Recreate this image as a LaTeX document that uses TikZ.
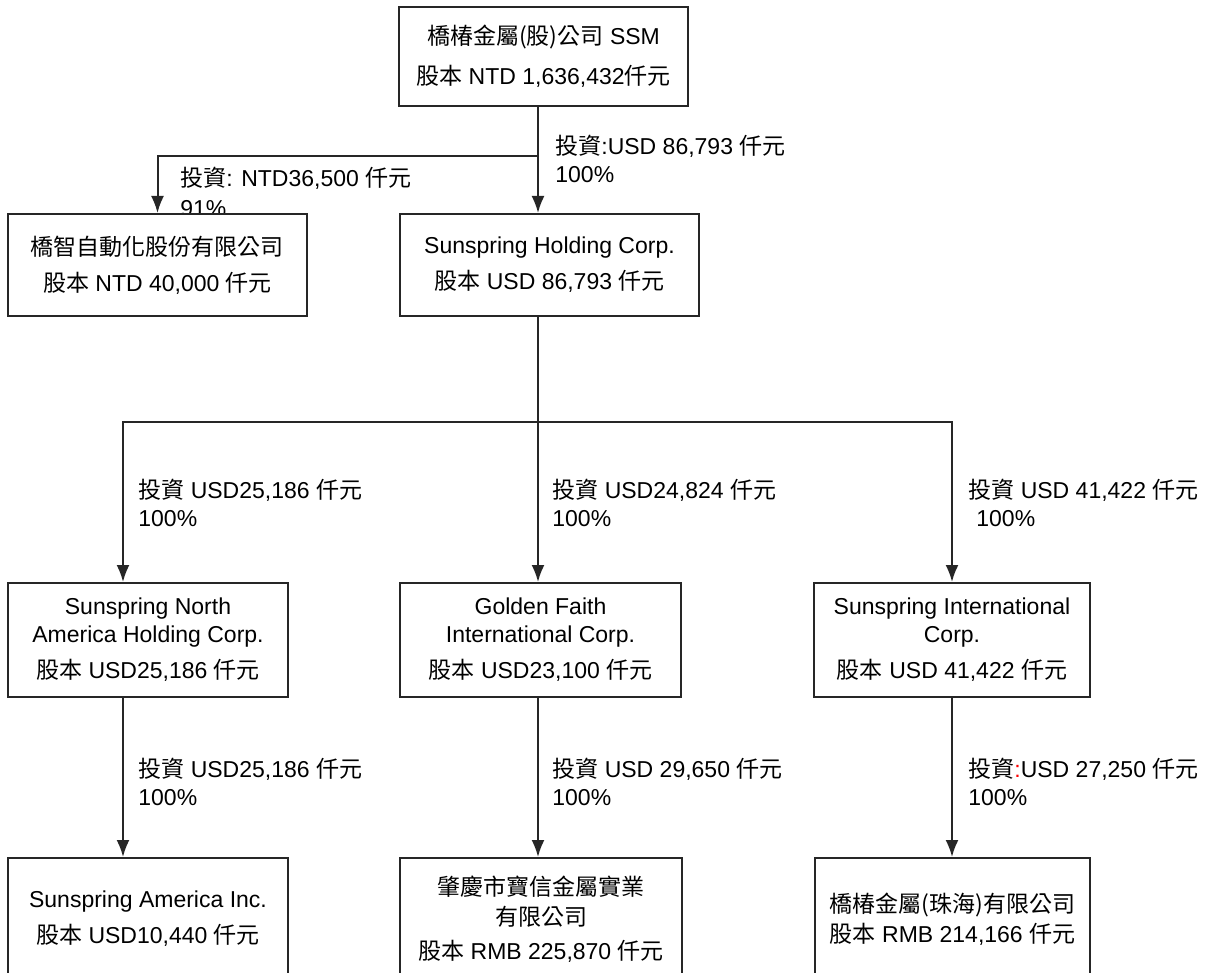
\documentclass[tikz,border=0pt]{standalone}
\usepackage{fontspec}
\setmainfont{Liberation Sans}
\newfontfamily\cjkfont{Noto Sans CJK TC}
\newcommand{\zh}[1]{{\cjkfont #1}}
\usepackage{xcolor}
\usetikzlibrary{arrows.meta,calc,positioning}

\begin{document}
\begin{tikzpicture}[>={Latex[length=8.5pt,width=6.5pt]},x=0.5pt,y=-0.5pt]
\tikzstyle{orgbox}=[rectangle,draw=black!85,line width=1pt,fill=white,align=center,
                    inner sep=0pt,font=\fontsize{11.5}{14}\selectfont]
\tikzstyle{invlabel}=[anchor=west,align=left,inner sep=0pt,font=\fontsize{11.5}{14}\selectfont]
\tikzstyle{arrow}=[->,line width=1pt,black!85]

\clip (0,0) rectangle (1206,973);

% --- investment labels ---
\node[invlabel] (lshc) at (555,159) {\zh{投資}:USD 86,793 \zh{仟元}\\100\%};
\node[invlabel] (lauto) at (180,192) {\zh{投資}: NTD36,500 \zh{仟元}\\[1pt]91\%};
\node[invlabel] (lsnahc) at (138,503) {\zh{投資} USD25,186 \zh{仟元}\\100\%};
\node[invlabel] (lgfic) at (552,503) {\zh{投資} USD24,824 \zh{仟元}\\100\%};
\node[invlabel] (lsic) at (968,503) {\zh{投資} USD 41,422 \zh{仟元}\\\hspace*{4pt}100\%};
\node[invlabel] (lsai) at (138,782) {\zh{投資} USD25,186 \zh{仟元}\\100\%};
\node[invlabel] (lzq) at (552,782) {\zh{投資} USD 29,650 \zh{仟元}\\100\%};
\node[invlabel] (lzh) at (968,782) {\zh{投資}\textcolor{red}{:}USD 27,250 \zh{仟元}\\100\%};

% --- parent company ---
\node[orgbox,minimum width=144.5pt,minimum height=49.5pt] (ssm) at (543.5,56.5)
  {\zh{橋椿金屬(股)公司} SSM\\[6pt]\zh{股本} NTD 1,636,432\zh{仟元}};

% --- first level ---
\node[orgbox,minimum width=149.5pt,minimum height=51pt] (auto) at (157.5,265)
  {\zh{橋智自動化股份有限公司}\\[4pt]\zh{股本} NTD 40,000 \zh{仟元}};
\node[orgbox,minimum width=149.5pt,minimum height=51pt] (shc) at (549.5,265)
  {Sunspring Holding Corp.\\[4pt]\zh{股本} USD 86,793 \zh{仟元}};

% --- second level ---
\node[orgbox,minimum width=140pt,minimum height=57pt] (snahc) at (148,640)
  {Sunspring North\\America Holding Corp.\\[4pt]\zh{股本} USD25,186 \zh{仟元}};
\node[orgbox,minimum width=140.5pt,minimum height=57pt] (gfic) at (540.5,640)
  {Golden Faith\\International Corp.\\[4pt]\zh{股本} USD23,100 \zh{仟元}};
\node[orgbox,minimum width=138pt,minimum height=57pt] (sic) at (952,640)
  {Sunspring International\\Corp.\\[4pt]\zh{股本} USD 41,422 \zh{仟元}};

% --- third level ---
\node[orgbox,minimum width=140pt,minimum height=61pt] (sai) at (148,919)
  {Sunspring America Inc.\\[4pt]\zh{股本} USD10,440 \zh{仟元}};
\node[orgbox,minimum width=141pt,minimum height=61pt] (zq) at (541,919)
  {\zh{肇慶市寶信金屬實業}\\[1pt]\zh{有限公司}\\[3pt]\zh{股本} RMB 225,870 \zh{仟元}};
\node[orgbox,minimum width=137.5pt,minimum height=61pt] (zh) at (952.5,919)
  {\zh{橋椿金屬(珠海)有限公司}\\[1pt]\zh{股本} RMB 214,166 \zh{仟元}};

% --- arrows ---
\coordinate (trunk) at (538,156);
\coordinate (bar) at (538,422);
\draw[arrow] (ssm.south -| trunk) -- (shc.north -| trunk);
\draw[arrow] (trunk) -| (auto.north);
\draw[arrow,-] (shc.south -| bar) -- (bar);
\draw[arrow] (bar) -| ($(snahc.north)+(-25,0)$);
\draw[arrow] (bar) -- (gfic.north -| bar);
\draw[arrow] (bar) -| (sic.north);
\draw[arrow] ($(snahc.south)+(-25,0)$) -- ($(sai.north)+(-25,0)$);
\draw[arrow] (gfic.south -| bar) -- (zq.north -| bar);
\draw[arrow] (sic.south) -- (sic.south |- zh.north);

\end{tikzpicture}
\end{document}
